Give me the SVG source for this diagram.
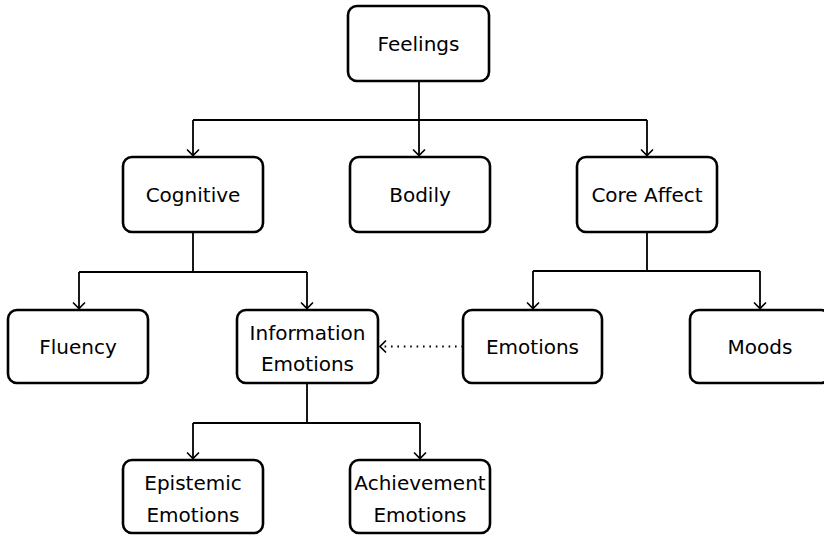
<svg xmlns="http://www.w3.org/2000/svg" width="824" height="535" viewBox="0 0 824 535">
<style>
.box{fill:#fff;stroke:#000;stroke-width:2.6}
.t{font-family:"DejaVu Sans",sans-serif;font-size:20px;fill:#000;text-anchor:middle}
.c{fill:none;stroke:#000;stroke-width:1.8}
.d{fill:none;stroke:#000;stroke-width:1.8;stroke-dasharray:1.6 4.8}
</style>
<defs>
<marker id="ah" markerUnits="userSpaceOnUse" viewBox="-8 -8 10 16" markerWidth="10" markerHeight="16" refX="0" refY="0" orient="auto" overflow="visible">
<path d="M-5.5,-5.5 Q-1.5,-1.5 0,0 Q-1.5,1.5 -5.5,5.5" fill="none" stroke="#000" stroke-width="1.7" stroke-linecap="round"/>
</marker>
</defs>
<g id="connectors">
<path class="c" d="M419,81 V120"/>
<path class="c" d="M193,120 H647"/>
<path class="c" d="M193,120 V155.5" marker-end="url(#ah)"/>
<path class="c" d="M419,120 V155.5" marker-end="url(#ah)"/>
<path class="c" d="M647,120 V155.5" marker-end="url(#ah)"/>
<path class="c" d="M193,232 V272 M79,272 H307"/>
<path class="c" d="M79,272 V308.5" marker-end="url(#ah)"/>
<path class="c" d="M307,272 V308.5" marker-end="url(#ah)"/>
<path class="c" d="M647,232 V271 M533,271 H760"/>
<path class="c" d="M533,271 V308.5" marker-end="url(#ah)"/>
<path class="c" d="M760,271 V308.5" marker-end="url(#ah)"/>
<path class="c" d="M307,383 V423 M193,423 H420"/>
<path class="c" d="M193,423 V458.5" marker-end="url(#ah)"/>
<path class="c" d="M420,423 V458.5" marker-end="url(#ah)"/>
<path class="d" d="M463,346.5 H380" marker-end="url(#ah)"/>
</g>
<g id="feelings"><rect class="box" x="348" y="6" width="141" height="75" rx="9"/><text class="t" x="418.5" y="51">Feelings</text></g>
<g id="cognitive"><rect class="box" x="123" y="157" width="140" height="75" rx="9"/><text class="t" x="193" y="201.5">Cognitive</text></g>
<g id="bodily"><rect class="box" x="350" y="157" width="140" height="75" rx="9"/><text class="t" x="420" y="201.5">Bodily</text></g>
<g id="coreaffect"><rect class="box" x="577" y="157" width="140" height="75" rx="9"/><text class="t" x="647" y="201.5">Core Affect</text></g>
<g id="fluency"><rect class="box" x="8" y="310" width="140" height="73" rx="9"/><text class="t" x="78" y="354">Fluency</text></g>
<g id="information"><rect class="box" x="237" y="310" width="141" height="73" rx="9"/><text class="t" x="307.5" y="339.5">Information</text><text class="t" x="307.5" y="371">Emotions</text></g>
<g id="emotions"><rect class="box" x="463" y="310" width="139" height="73" rx="9"/><text class="t" x="532.5" y="354">Emotions</text></g>
<g id="moods"><rect class="box" x="690" y="310" width="140" height="73" rx="9"/><text class="t" x="760" y="354">Moods</text></g>
<g id="epistemic"><rect class="box" x="123" y="460" width="140" height="73" rx="9"/><text class="t" x="193" y="490">Epistemic</text><text class="t" x="193" y="521.5">Emotions</text></g>
<g id="achievement"><rect class="box" x="350" y="460" width="140" height="73" rx="9"/><text class="t" x="420" y="490">Achievement</text><text class="t" x="420" y="521.5">Emotions</text></g>
</svg>
